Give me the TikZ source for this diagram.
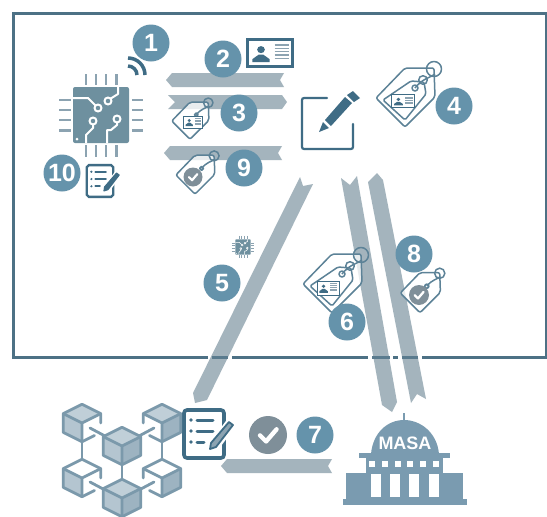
\documentclass[tikz,border=0pt]{standalone}
\usepackage{fontspec}
\setmainfont{Liberation Sans}
\definecolor{numc}{HTML}{6593AB}
\definecolor{dkc}{HTML}{3F6C85}
\definecolor{frc}{HTML}{4D7185}
\definecolor{ribc}{HTML}{A4B4BD}
\definecolor{chipc}{HTML}{6E909F}
\definecolor{pinc}{HTML}{8CA3B1}
\definecolor{chkc}{HTML}{7F8F99}
\definecolor{cubeA}{HTML}{C0CFD8}
\definecolor{cubeB}{HTML}{B4C5D0}
\definecolor{cubeC}{HTML}{9DB3C1}
\definecolor{cubeO}{HTML}{7B99AB}
\definecolor{bldc}{HTML}{7A9BB0}
\tikzset{
  x=1pt,y=-1pt,
  numnode/.style={circle,fill=numc,text=white,minimum size=37pt,inner sep=0pt,font=\fontsize{25}{25}\selectfont\bfseries},
  ribbon/.style={fill=ribc,draw=none},
  tagline/.style={draw=dkc!85,line width=1.5pt,line join=round},
  pinline/.style={draw=pinc,line width=#1,line cap=butt},
  trace/.style={draw=white,line width=#1,line join=round},
  cubeline/.style={draw=cubeO,line width=2.8pt,line join=round,line cap=round}
}
\newcommand{\idcard}[5]{%
  \begin{scope}[shift={(#1,#2)},x=#3*.5pt,y=-#4*.5pt]
    \draw[dkc,line width=#5,fill=white] (-1,-1) rectangle (1,1);
    \fill[dkc] (-.4,-.25) circle[x radius=.17,y radius=.26];
    \fill[dkc] (-.78,.68) -- (-.78,.45) -- (-.5,.12) -- (-.3,.12) -- (-.02,.45) -- (-.02,.68) -- cycle;
    \foreach \yy in {-.6,-.35,-.1,.15,.4}{\draw[pinc,line width=#5*.7] (.2,\yy) -- (.85,\yy);}
  \end{scope}}
\newcommand{\chkcirc}[3]{%
  \fill[chkc] (#1,#2) circle[radius=#3];
  \begin{scope}[shift={(#1,#2)},x=#3*1pt,y=-#3*1pt]
    \draw[white,line width=#3*.23pt,line cap=round,line join=round] (-.42,.02) -- (-.1,.34) -- (.45,-.3);
  \end{scope}}
\newcommand{\tagshape}[3]{%
  \begin{scope}[shift={(#1,#2)},scale=#3]
    \draw[tagline,fill=white,fill opacity=.75,rounded corners=2pt] (-29,0) -- (0,-30) -- (29,-30) -- (30,-1) -- (0,29) -- cycle;
    \draw[tagline] (29,-29) circle[radius=7.5];
    \draw[tagline] (10,-10) circle[radius=3];
    \draw[tagline] (10,-10) .. controls (18,-20) and (25,-20) .. (30,-24);
  \end{scope}}
\newcommand{\taginner}[2]{%
  \begin{scope}[shift={(#1,#2)}]
    \draw[tagline,rounded corners=1.5pt] (-22,2) -- (6,-17) -- (19,-16) -- (21,-4) -- (0,22) -- cycle;
    \draw[tagline] (18,-18) circle[radius=4.3];
  \end{scope}}
\newcommand{\chip}[3]{%
  \begin{scope}[shift={(#1,#2)},scale=#3]
    \fill[chipc,rounded corners=2pt*#3] (-28,-28) rectangle (28,28);
    \foreach \p in {-15,-5,5,15.5}{
      \draw[pinline=2.4pt*#3] (\p,-41) -- (\p,-30);
      \draw[pinline=2.4pt*#3] (\p,30) -- (\p,42);
      \draw[pinline=2.4pt*#3] (-42,\p) -- (-30,\p);
      \draw[pinline=2.4pt*#3] (31,\p) -- (42,\p);
    }
    \draw[trace=2pt*#3] (-28,-17) -- (-13,-17) -- (-5,-9);
    \draw[trace=2pt*#3,fill=chipc] (-3,-7) circle[radius=3.5];
    \draw[trace=2pt*#3] (9,-16) -- (17,-21) -- (17,-28);
    \draw[trace=2pt*#3,fill=chipc] (7,-14) circle[radius=3.5];
    \draw[trace=2pt*#3] (-8,9) -- (-8,13) -- (-15,20) -- (-15,28);
    \draw[trace=2pt*#3,fill=chipc] (-8,6) circle[radius=3.5];
    \draw[trace=2pt*#3] (16,8) -- (16,10) -- (10,15) -- (6,15) -- (6,28);
    \draw[trace=2pt*#3,fill=chipc] (16,4) circle[radius=3.5];
    \fill[white] (-24,24) circle[radius=1.5];
  \end{scope}}
\newcommand{\docicon}[4]{%
  \begin{scope}[shift={(#1,#2)},scale=#3]
    \draw[dkc,line width=3.6pt*#3,rounded corners=3pt*#3] (-20,-24) rectangle (20,24);
    \foreach \yy/\ee in {-14/9,-3/9,8/0}{
      \fill[dkc] (-13,\yy) circle[radius=1.8];
      \draw[dkc,line width=3pt*#3,line cap=round] (-7,\yy) -- (\ee,\yy);
    }
    \draw[white,line width=11pt*#3] (28,-12) -- (8,15);
    \draw[draw=dkc,fill=#4,line width=1.8pt*#3,line join=round] (25,-12) -- (29,-9) -- (12,13) -- (6,15) -- (7,9) -- cycle;
  \end{scope}}
\newcommand{\cubeall}[2]{%
  \begin{scope}[shift={(#1,#2)},scale=1.04]
    \fill[cubeA] (0,-18) -- (18,-9) -- (0,0) -- (-18,-9) -- cycle;
    \fill[cubeB] (-18,-9) -- (0,0) -- (0,18) -- (-18,9) -- cycle;
    \fill[cubeC] (18,-9) -- (0,0) -- (0,18) -- (18,9) -- cycle;
    \draw[cubeline] (0,-18) -- (18,-9) -- (18,9) -- (0,18) -- (-18,9) -- (-18,-9) -- cycle;
    \draw[cubeline] (-18,-9) -- (0,0) -- (18,-9) (0,0) -- (0,18);
  \end{scope}}
\newcommand{\cubeleft}[3]{%
  \begin{scope}[shift={(#1,#2)},scale=1.04]
    \fill[#3] (0,-18) -- (18,-9) -- (0,0) -- (-18,-9) -- cycle;
    \fill[cubeB] (-18,-9) -- (0,0) -- (0,18) -- (-18,9) -- cycle;
    \draw[cubeline] (0,18) -- (-18,9) -- (-18,-9) -- (0,-18) -- (18,-9) -- (18,0);
    \draw[cubeline] (-18,-9) -- (0,0) -- (18,-9) (0,0) -- (0,18);
    \draw[cubeline] (0,18) -- (12,12);
  \end{scope}}
\newcommand{\cuberight}[3]{%
  \begin{scope}[shift={(#1,#2)},scale=1.04]
    \fill[#3] (0,-18) -- (18,-9) -- (0,0) -- (-18,-9) -- cycle;
    \fill[cubeC] (18,-9) -- (0,0) -- (0,18) -- (18,9) -- cycle;
    \draw[cubeline] (0,18) -- (18,9) -- (18,-9) -- (0,-18) -- (-18,-9) -- (-18,0);
    \draw[cubeline] (-18,-9) -- (0,0) -- (18,-9) (0,0) -- (0,18);
    \draw[cubeline] (0,18) -- (-12,12);
  \end{scope}}
\begin{document}
\begin{tikzpicture}
\useasboundingbox (0,0) rectangle (547,517);
\fill[white] (0,0) rectangle (547,517);

% frame, with gaps round the crossing ribbons
\draw[frc,line width=3pt] (13,13) -- (546,13) -- (546,357) -- (13,357) -- cycle;
\fill[white] (208,354) rectangle (232,360);
\fill[white] (368,354) rectangle (393,360);
\fill[white] (398,354) rectangle (422,360);

% ribbons
\fill[ribbon] (166,80) -- (172,73) -- (284,73) -- (280,80) -- (284,87) -- (172,87) -- cycle;
\fill[ribbon] (168,95) -- (282,95) -- (287,102) -- (282,109) -- (168,109) -- (175,102) -- cycle;
\fill[ribbon] (164,153) -- (170,146) -- (282,146) -- (278,153) -- (282,160) -- (170,160) -- cycle;
\fill[ribbon] (300,177) -- (303,186) -- (313,184) -- (207,400) -- (195,403) -- (193,393) -- cycle;
\fill[ribbon] (341,178) -- (350,185) -- (357,176) -- (397,402) -- (392,412) -- (382,405) -- cycle;
\fill[ribbon] (377,173) -- (383,180) -- (426,399) -- (417,394) -- (411,403) -- (368,182) -- cycle;
\fill[ribbon] (221,466) -- (227,459) -- (332,459) -- (328,466) -- (332,473) -- (227,473) -- cycle;
% frame seen through the ribbons
\draw[frc!85!ribc,line width=3pt] (212,357) -- (228,357) (372,357) -- (390,357) (402,357) -- (418,357);

\chip{101}{115}{1}
\chip{243}{247}{.27}
\draw[dkc,line width=3.5pt] (128,58) arc[start angle=-90,end angle=0,radius=17];
\draw[dkc,line width=3.5pt] (128,66) arc[start angle=-90,end angle=0,radius=9];

\idcard{270}{53}{45}{27}{2.2pt}

\tagshape{190}{121}{.63}
\idcard{193}{122}{19}{12}{.9pt}
\tagshape{195}{175}{.66}
\chkcirc{193}{177}{9.5}
\tagshape{420}{293}{.68}
\chkcirc{419}{295}{10}
\tagshape{405}{98}{1}
\taginner{405}{98}
\idcard{403}{101}{23}{13}{.9pt}
\tagshape{332}{284}{1}
\taginner{332}{284}
\idcard{328}{288}{22}{14}{.9pt}

% edit icon
\draw[dkc,line width=2.2pt,line cap=round,rounded corners=2pt] (327,98) -- (302,98) -- (302,149) -- (353,149) -- (353,124);
\fill[dkc] (319,132) -- (323,122) -- (329,128) -- cycle;
\fill[dkc] (325,120) -- (345,97) -- (352,103) -- (331,126) -- cycle;
\fill[dkc] (347,95) -- (353,91) -- (360,98) -- (354,102) -- cycle;

\docicon{100}{181}{.66}{dkc}
\docicon{204}{434}{1}{pinc}

% blockchain
\draw[cubeline] (82,440) -- (82,468) (162,440) -- (162,468) (122,462) -- (122,490);
\draw[cubeline] (90,428) -- (105,436) (154,428) -- (139,436) (90,482) -- (105,490) (154,482) -- (139,490);
\cubeleft{82}{423}{cubeA}
\cuberight{162}{423}{cubeA}
\cubeleft{82}{478}{white}
\cuberight{162}{478}{white}
\cubeall{122}{446}
\cubeall{122}{498}

% MASA building
\draw[bldc,line width=2pt] (404,413) -- (404,422);
\fill[bldc] (371,454) .. controls (373,432) and (388,420) .. (404,420) .. controls (420,420) and (437,432) .. (439,454) -- cycle;
\fill[bldc] (359,453) rectangle (450,458);
\fill[bldc] (366,458) rectangle (443,473);
\fill[bldc] (346,473) rectangle (463,499);
\fill[bldc] (343,499) rectangle (467,505);
\foreach \xx in {369,382,395,407,420,433}{\fill[white] (\xx,461) rectangle ++(6,6);}
\foreach \xx in {371,390,409,429}{\fill[white] (\xx,474) rectangle ++(10,23);}
\node[text=white,font=\fontsize{18}{18}\selectfont\bfseries,inner sep=0pt] (masa) at (405,443) {MASA};

\node[numnode] (n1) at (151,43) {1};
\node[numnode] (n2) at (223,59) {2};
\node[numnode] (n3) at (239,113) {3};
\node[numnode] (n9) at (244,168) {9};
\node[numnode] (n10) at (62,173) {10};
\node[numnode] (n4) at (454,106) {4};
\node[numnode] (n5) at (222,283) {5};
\node[numnode] (n6) at (347,322) {6};
\node[numnode] (n8) at (414,254) {8};
\node[numnode] (n7) at (315,435) {7};
\chkcirc{268}{435}{19}
\end{tikzpicture}
\end{document}
